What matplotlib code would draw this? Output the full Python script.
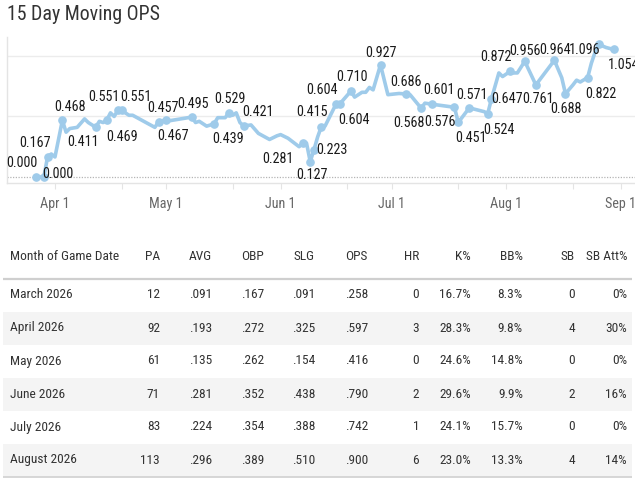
import os
import matplotlib
matplotlib.use("Agg")
import matplotlib.pyplot as plt
import matplotlib.dates as mdates
from matplotlib import font_manager as fm
import numpy as np
import pandas as pd

# ---------------- data ----------------
dates = ["2026-03-27", "2026-03-29", "2026-03-30", "2026-03-31", "2026-04-01",
         "2026-04-03", "2026-04-04", "2026-04-05", "2026-04-07", "2026-04-09",
         "2026-04-10", "2026-04-12", "2026-04-13", "2026-04-14", "2026-04-15",
         "2026-04-16", "2026-04-17", "2026-04-18", "2026-04-19", "2026-04-21",
         "2026-04-22", "2026-04-28", "2026-04-29", "2026-05-01", "2026-05-02",
         "2026-05-08", "2026-05-09", "2026-05-10", "2026-05-12", "2026-05-14",
         "2026-05-15", "2026-05-17", "2026-05-18", "2026-05-19", "2026-05-20",
         "2026-05-21", "2026-05-22", "2026-05-24", "2026-05-26", "2026-05-29",
         "2026-05-31", "2026-06-01", "2026-06-03", "2026-06-06", "2026-06-07",
         "2026-06-08", "2026-06-09", "2026-06-10", "2026-06-11", "2026-06-12",
         "2026-06-13", "2026-06-16", "2026-06-17", "2026-06-20", "2026-06-21",
         "2026-06-23", "2026-06-24", "2026-06-25", "2026-06-26", "2026-06-28",
         "2026-06-30", "2026-07-03", "2026-07-05", "2026-07-06", "2026-07-09",
         "2026-07-10", "2026-07-12", "2026-07-18", "2026-07-19", "2026-07-20",
         "2026-07-22", "2026-07-26", "2026-07-27", "2026-07-28", "2026-07-30",
         "2026-07-31", "2026-08-02", "2026-08-03", "2026-08-04", "2026-08-06",
         "2026-08-09", "2026-08-14", "2026-08-16", "2026-08-17", "2026-08-19",
         "2026-08-20", "2026-08-21", "2026-08-23", "2026-08-24", "2026-08-25",
         "2026-08-26", "2026-08-28", "2026-08-30"]
ops = [0.000, 0.000, 0.167, 0.19, 0.165,
       0.468, 0.37, 0.40, 0.41, 0.48,
       0.45, 0.411, 0.46, 0.45, 0.469,
       0.53, 0.50, 0.551, 0.551, 0.51,
       0.51, 0.41, 0.457, 0.467, 0.465,
       0.495, 0.45, 0.46, 0.42, 0.439,
       0.49, 0.49, 0.529, 0.51, 0.53,
       0.45, 0.421, 0.43, 0.36, 0.31,
       0.34, 0.35, 0.32, 0.25, 0.281,
       0.28, 0.127, 0.223, 0.33, 0.415,
       0.42, 0.604, 0.604, 0.710, 0.66,
       0.70, 0.70, 0.74, 0.72, 0.927,
       0.68, 0.69, 0.686, 0.68, 0.568,
       0.61, 0.601, 0.576, 0.451, 0.49,
       0.571, 0.54, 0.524, 0.647, 0.86,
       0.83, 0.872, 0.86, 0.86, 0.956,
       0.761, 0.964, 0.82, 0.688, 0.76,
       0.80, 0.785, 0.822, 0.94, 1.03,
       1.096, 1.07, 1.054]
labeled_dates = ["2026-03-27", "2026-03-29", "2026-03-30", "2026-04-03", "2026-04-12",
                 "2026-04-15", "2026-04-18", "2026-04-19", "2026-04-29", "2026-05-01",
                 "2026-05-08", "2026-05-14", "2026-05-18", "2026-05-22", "2026-06-07",
                 "2026-06-09", "2026-06-10", "2026-06-12", "2026-06-16", "2026-06-17",
                 "2026-06-20", "2026-06-28", "2026-07-05", "2026-07-09", "2026-07-12",
                 "2026-07-18", "2026-07-19", "2026-07-22", "2026-07-27", "2026-07-28",
                 "2026-08-02", "2026-08-06", "2026-08-09", "2026-08-14", "2026-08-17",
                 "2026-08-23", "2026-08-26", "2026-08-30"]

months = ["March 2026", "April 2026", "May 2026", "June 2026", "July 2026", "August 2026"]
pa = [12, 92, 61, 71, 83, 113]
avg = [0.091, 0.193, 0.135, 0.281, 0.224, 0.296]
obp = [0.167, 0.272, 0.262, 0.352, 0.354, 0.389]
slg = [0.091, 0.325, 0.154, 0.438, 0.388, 0.510]
ops_m = [0.258, 0.597, 0.416, 0.790, 0.742, 0.900]
hr = [0, 3, 0, 2, 1, 6]
k_pct = [16.7, 28.3, 24.6, 29.6, 24.1, 23.0]
bb_pct = [8.3, 9.8, 14.8, 9.9, 15.7, 13.3]
sb = [0, 4, 0, 2, 0, 4]
sb_att = [0, 30, 0, 16, 0, 14]
headers = ["Month of Game Date", "PA", "AVG", "OBP", "SLG", "OPS", "HR", "K%", "BB%", "SB", "SB Att%"]

# ---------------- label offsets (pixels, style only) ----------------
label_offsets = {
    "2026-03-27": (-15, 14), "2026-03-29": (14, 3), "2026-03-30": (-13, 14),
    "2026-04-03": (8, 13), "2026-04-12": (-13, -15), "2026-04-15": (15, -17),
    "2026-04-18": (-14, 13), "2026-04-19": (14, 13), "2026-04-29": (4, 14),
    "2026-05-01": (7, -16), "2026-05-08": (1, 13), "2026-05-14": (14, -15),
    "2026-05-18": (1, 14), "2026-05-22": (14, 14), "2026-06-07": (-25, -16),
    "2026-06-09": (2, -13), "2026-06-10": (18, 0), "2026-06-12": (-9, 15),
    "2026-06-16": (-14, 14), "2026-06-17": (14, -16), "2026-06-20": (1, 14),
    "2026-06-28": (0, 12), "2026-07-05": (0, 12), "2026-07-09": (-12, -15),
    "2026-07-12": (7, 14), "2026-07-18": (-14, -15), "2026-07-19": (13, -16),
    "2026-07-22": (3, 13), "2026-07-27": (11, -16), "2026-07-28": (16, 0),
    "2026-08-02": (-14, 14), "2026-08-06": (0, 10), "2026-08-09": (2, -14),
    "2026-08-14": (1, 10), "2026-08-17": (0, -15), "2026-08-23": (13, -16),
    "2026-08-26": (-14, -6), "2026-08-30": (10, -16),
}

# ---------------- fonts ----------------
def find_condensed():
    entries = list(fm.fontManager.ttflist)
    prefs = ["roboto condensed", "liberation sans narrow", "open sans condensed",
             "dejavu sans condensed", "noto sans condensed"]
    cands = []
    for e in entries:
        bn = os.path.basename(e.fname).lower()
        nm = e.name.lower()
        if any(b in bn for b in ["bold", "italic", "oblique", "light", "thin", "black", "medium"]):
            continue
        if ("condensed" in bn or "narrow" in bn or "condensed" in nm or "narrow" in nm
                or str(e.stretch).lower() in ("condensed", "semi-condensed")):
            cands.append(e)
    for p in prefs:
        for e in cands:
            full = (e.name + " " + os.path.basename(e.fname)).lower().replace("-", " ")
            key = p.replace(" ", "")
            if key in full.replace(" ", ""):
                return e.fname
    return cands[0].fname if cands else None

cond_file = find_condensed()
if cond_file:
    FP = fm.FontProperties(fname=cond_file)
    scale = 1.0
else:
    FP = fm.FontProperties(family=["Roboto", "DejaVu Sans"])
    scale = 0.85

def fp(size):
    p = FP.copy()
    p.set_size(size * scale)
    return p

# ---------------- figure ----------------
W, H = 635, 484
fig = plt.figure(figsize=(W / 100, H / 100), dpi=100)
fig.patch.set_facecolor("white")

ax_t = fig.add_axes([0, 0, 1, 1])
ax_t.set_xlim(0, W)
ax_t.set_ylim(H, 0)
ax_t.axis("off")

ax_t.text(7, 15, "15 Day Moving OPS", fontproperties=fp(14.3), color="#333333",
          ha="left", va="center")

# table
right_edges = [160, 212, 264, 315, 368, 419, 471, 523, 575, 627]
header_y = 257
row_y0 = 295
row_h = 33
text_col = "#333333"
tsize = 9.6
ax_t.text(10, header_y, headers[0], fontproperties=fp(tsize), color=text_col, ha="left", va="center")
for j, h in enumerate(headers[1:]):
    ax_t.text(right_edges[j], header_y, h, fontproperties=fp(tsize), color=text_col,
              ha="right", va="center")
ax_t.plot([3, 632], [279, 279], color="#cfcfcf", lw=1.6, solid_capstyle="butt")

def f3(v):
    s = f"{v:.3f}"
    return s[1:] if s.startswith("0") else s

for i, m in enumerate(months):
    yy = row_y0 + i * row_h
    if i % 2 == 1:
        ax_t.add_patch(plt.Rectangle((3, yy - row_h / 2), 629, row_h, facecolor="#f4f4f4",
                                     edgecolor="none", zorder=0))
    vals = [str(pa[i]), f3(avg[i]), f3(obp[i]), f3(slg[i]), f3(ops_m[i]), str(hr[i]),
            f"{k_pct[i]:.1f}%", f"{bb_pct[i]:.1f}%", str(sb[i]), f"{sb_att[i]:d}%"]
    ax_t.text(10, yy, m, fontproperties=fp(tsize), color=text_col, ha="left", va="center", zorder=2)
    for j, v in enumerate(vals):
        ax_t.text(right_edges[j], yy, v, fontproperties=fp(tsize), color=text_col,
                  ha="right", va="center", zorder=2)
ax_t.plot([3, 632], [477, 477], color="#d6d6d6", lw=1.4, solid_capstyle="butt")

# ---------------- line chart ----------------
ax = fig.add_axes([7 / W, 1 - 183 / H, (W - 7) / W, 146 / H])
ax.set_facecolor("none")
x = pd.to_datetime(dates)
y = np.array(ops)
base = pd.Timestamp("2026-04-01")
ax.set_xlim(mdates.date2num(base - pd.Timedelta(days=12.97)),
            mdates.date2num(base + pd.Timedelta(days=156.8)))
ax.set_ylim(-0.05, 1.157)

for gv in [0.5, 1.0]:
    ax.axhline(gv, color="#ececec", lw=1.0, zorder=0)
ax.axhline(0, color="#b5b5b5", lw=0.9, ls=(0, (1, 1.2)), zorder=0)

line_col = "#9fcbea"
ax.plot(x, y, color=line_col, lw=2.6, solid_joinstyle="round", solid_capstyle="round", zorder=2)
lab = pd.to_datetime(labeled_dates)
lab_idx = [dates.index(d) for d in labeled_dates]
ax.plot(lab, y[lab_idx], ls="none", marker="o", ms=5.2, color=line_col, mec=line_col, zorder=3)

for d, i in zip(labeled_dates, lab_idx):
    dx, dy = label_offsets[d]
    ax.annotate(f"{y[i]:.3f}", (mdates.date2num(pd.Timestamp(d)), y[i]),
                xytext=(dx, dy), textcoords="offset pixels", ha="center", va="center",
                fontproperties=fp(10.2), color="#1a1a1a", zorder=4, annotation_clip=False)

for s in ["top", "right"]:
    ax.spines[s].set_visible(False)
ax.spines["left"].set_color("#e4e4e4")
ax.spines["bottom"].set_color("#e4e4e4")
ax.spines["left"].set_linewidth(1.0)
ax.spines["bottom"].set_linewidth(1.0)
ax.set_yticks([])

ax.xaxis.set_major_locator(mdates.MonthLocator(bymonthday=1))
ax.xaxis.set_major_formatter(mdates.DateFormatter("%b %-d"))
ax.xaxis.set_minor_locator(mdates.MonthLocator(bymonthday=19))
ax.tick_params(axis="x", which="both", length=4, width=0.8, color="#e4e4e4", pad=6)
ax.tick_params(axis="x", which="major", labelcolor="#666666")
for t in ax.get_xticklabels():
    t.set_fontproperties(fp(10.2))
    t.set_horizontalalignment("center")

fig.savefig("out.png", dpi=100, facecolor="white")
